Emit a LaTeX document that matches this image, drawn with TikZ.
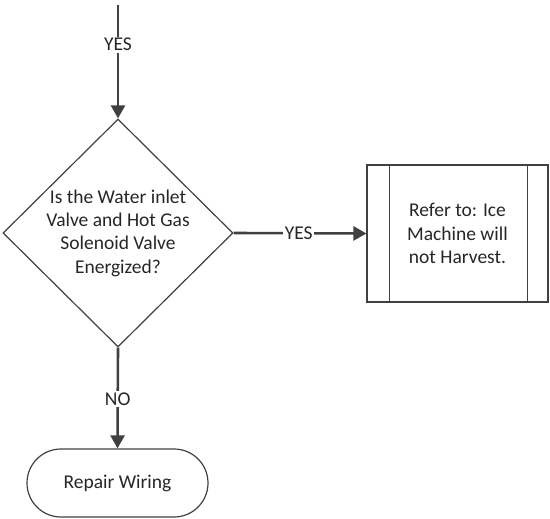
\documentclass[tikz,border=0pt]{standalone}
\usepackage{fontspec}
\setmainfont{Carlito}
\usetikzlibrary{shapes.geometric,arrows.meta,calc}
\definecolor{ln}{HTML}{404040}
\definecolor{tx}{HTML}{262626}
\begin{document}
\begin{tikzpicture}[x=1pt,y=-1pt,
  every node/.style={font=\fontsize{19.5}{23.3}\selectfont, text=tx},
  shp/.style={draw=ln, line width=1.2pt},
  conn/.style={draw=ln, line width=2.6pt, -{Triangle[length=13pt,width=14pt]}},
  lbl/.style={fill=white, inner sep=1.5pt}]
\useasboundingbox (0,0) rectangle (550,519);
\coordinate (start) at (118,5);
\node[shp, diamond, minimum width=230pt, minimum height=228pt, inner sep=0pt] (q) at (118,233) {};
\node[align=center, inner sep=0pt] (qt) at (q.center) {Is the Water inlet\\Valve and Hot Gas\\Solenoid Valve\\Energized?};
\node[shp, rectangle, minimum width=181pt, minimum height=137pt, inner sep=0pt] (ref) at (457.5,233.5) {};
\node[align=center, inner sep=0pt] (reft) at (ref.center) {Refer to: Ice\\Machine will\\not Harvest.};
\draw[shp] ($(ref.north west)+(23,0)$) -- ($(ref.south west)+(23,0)$);
\draw[shp] ($(ref.north east)+(-21,0)$) -- ($(ref.south east)+(-21,0)$);
\node[shp, rectangle, rounded corners=34pt, minimum width=181pt, minimum height=68pt, inner sep=0pt] (rep) at (117.5,483) {Repair Wiring};
\draw[conn] (start) -- node[lbl, pos=0.35] (l1) {YES} (q.north);
\draw[conn] (q.east) -- node[lbl, pos=0.49] (l2) {YES} (ref.west);
\draw[conn] (q.south) -- node[lbl, pos=0.51] (l3) {NO} (rep.north);
\end{tikzpicture}
\end{document}
